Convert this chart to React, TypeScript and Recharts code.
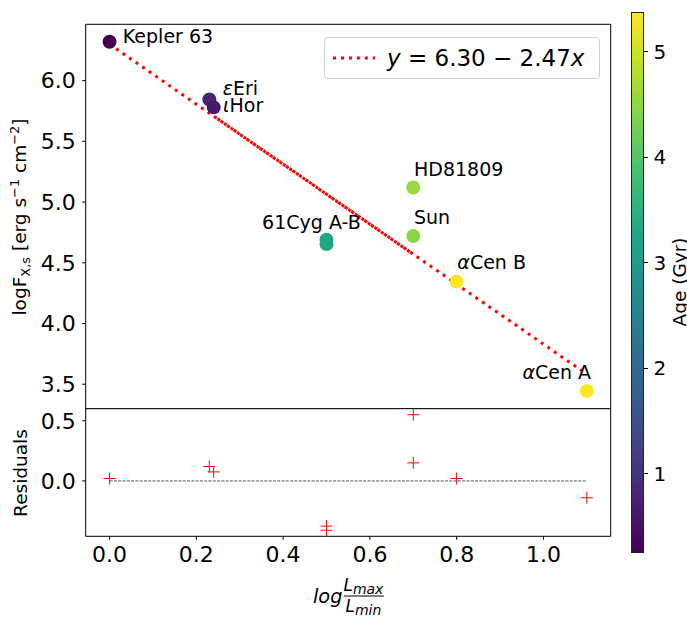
import React from 'react';
import { ComposedChart, Scatter, Line, XAxis, YAxis, ReferenceArea } from 'recharts';

// ---------- data ----------
const starLabels = ['Kepler 63', 'εEri', 'ιHor', '61Cyg A-B', '', 'HD81809', 'Sun', 'αCen B', 'αCen A'];
const logLRatio = [0.0, 0.23, 0.24, 0.5, 0.5, 0.7, 0.7, 0.8, 1.1];
const logFx = [6.32, 5.845, 5.78, 4.69, 4.655, 5.12, 4.72, 4.345, 3.445];
const agesGyr = [0.25, 0.8, 0.6, 3.3, 3.3, 4.6, 4.5, 5.38, 5.38];
const residuals = [0.02, 0.12, 0.075, -0.375, -0.41, 0.55, 0.15, 0.02, -0.14];
const fitIntercept = 6.3;
const fitSlope = -2.47;
// order in which the fit line was traced (it doubles back between 0.24 and 0.7)
const fitTraceX = [0.0, 0.7, 0.24, 1.1];
const xTicks = [0, 0.2, 0.4, 0.6, 0.8, 1.0];
const yTicks = [3.5, 4.0, 4.5, 5.0, 5.5, 6.0];
const residTicks = [0.0, 0.5];
const ageTicks = [1, 2, 3, 4, 5];
const ageMin = 0.25;
const ageMax = 5.38;

// ---------- styles ----------
const FONT = '"DejaVu Sans", sans-serif';
const xDomain: [number, number] = [-0.055, 1.155];
const yDomain: [number, number] = [3.296, 6.464];
const rDomain: [number, number] = [-0.46, 0.6];
// label offsets in pixels (text start, baseline) relative to each point
const labelOffsets: [number, number][] = [
  [13.3, 1], [13.4, -4.3], [9.4, 4.4], [-64.4, -11], [0, 0], [0.7, -11.6], [0.7, -12], [0.7, -12.7], [-64.4, -11.7],
];

const viridisStops = ['#440154', '#482475', '#414487', '#355f8d', '#2a788e', '#21918c', '#22a884', '#44bf70', '#7ad151', '#bddf26', '#fde725'];
function hexToRgb(h: string) {
  return [parseInt(h.slice(1, 3), 16), parseInt(h.slice(3, 5), 16), parseInt(h.slice(5, 7), 16)];
}
function viridis(t: number) {
  const tt = Math.max(0, Math.min(1, t)) * (viridisStops.length - 1);
  const i = Math.min(Math.floor(tt), viridisStops.length - 2);
  const f = tt - i;
  const a = hexToRgb(viridisStops[i]);
  const b = hexToRgb(viridisStops[i + 1]);
  const c = a.map((v, k) => Math.round(v + (b[k] - v) * f));
  return `rgb(${c[0]},${c[1]},${c[2]})`;
}

const mainPoints = logLRatio.map((x, i) => ({
  x,
  y: logFx[i],
  idx: i,
  label: starLabels[i],
  color: viridis((agesGyr[i] - ageMin) / (ageMax - ageMin)),
}));
const residPoints = logLRatio.map((x, i) => ({ x, y: residuals[i] }));
const xMin = Math.min(...logLRatio);
const xMax = Math.max(...logLRatio);
const fitLine = fitTraceX.map((x) => ({ x, y: fitIntercept + fitSlope * x }));
const zeroLine = [xMin, xMax].map((x) => ({ x, y: 0 }));

const dotShape = (p: any) => <circle cx={p.cx} cy={p.cy} r={7} fill={p.payload.color} />;
const labelShape = (p: any) => {
  const lab: string = p.payload.label;
  if (!lab) return <g />;
  const off = labelOffsets[p.payload.idx];
  const greek = /^[αει]/.test(lab);
  return (
    <text x={p.cx + off[0]} y={p.cy + off[1]} fontSize={19} fontFamily={FONT} fill="#000">
      {greek ? (
        <>
          <tspan fontStyle="italic">{lab[0]}</tspan>
          <tspan>{lab.slice(1)}</tspan>
        </>
      ) : (
        lab
      )}
    </text>
  );
};
const plusShape = (p: any) => (
  <path d={`M${p.cx - 6},${p.cy}H${p.cx + 6}M${p.cx},${p.cy - 6}V${p.cy + 6}`} stroke="#ff0000" strokeWidth={1} fill="none" />
);

const tickStyle = { fill: '#000', fontSize: 22, fontFamily: FONT };
const fmt1 = (v: number) => v.toFixed(1);

const cbTop = 11.7;
const cbHeight = 541.3;

export default function App() {
  const gradient = `linear-gradient(to top, ${viridisStops.map((c, i) => `${c} ${(i / (viridisStops.length - 1)) * 100}%`).join(', ')})`;
  return (
    <div style={{ position: 'absolute', left: 0, top: 0, width: 687, height: 617, background: '#fff', fontFamily: FONT, overflow: 'hidden', color: '#000' }}>
      {/* main panel */}
      <div style={{ position: 'absolute', left: 0, top: 0 }}>
        <ComposedChart width={687} height={409} margin={{ top: 24.3, right: 76.3, bottom: 0, left: 25.7 }}>
          <XAxis type="number" dataKey="x" domain={xDomain} allowDataOverflow hide />
          <YAxis
            type="number"
            dataKey="y"
            domain={yDomain}
            allowDataOverflow
            ticks={yTicks}
            interval={0}
            width={60}
            tickSize={3.5}
            tickMargin={6.5}
            axisLine={false}
            tickLine={{ stroke: '#000' }}
            tick={tickStyle}
            tickFormatter={fmt1}
          />
          <ReferenceArea x1={xDomain[0]} x2={xDomain[1]} y1={yDomain[0]} y2={yDomain[1]} fill="none" fillOpacity={0} stroke="#000" strokeWidth={1} ifOverflow="visible" />
          <Scatter data={mainPoints} dataKey="y" shape={dotShape} isAnimationActive={false} />
          <Line data={fitLine} dataKey="y" type="linear" stroke="#ff0000" strokeWidth={3} strokeDasharray="3 4.95" dot={false} activeDot={false} isAnimationActive={false} />
          <Scatter data={mainPoints} dataKey="y" shape={labelShape} isAnimationActive={false} />
        </ComposedChart>
      </div>

      {/* residual panel */}
      <div style={{ position: 'absolute', left: 0, top: 380 }}>
        <ComposedChart width={687} height={237} margin={{ top: 28.7, right: 76.3, bottom: 0, left: 25.7 }}>
          <XAxis
            type="number"
            dataKey="x"
            domain={xDomain}
            allowDataOverflow
            ticks={xTicks}
            interval={0}
            height={80.7}
            tickSize={3.5}
            tickMargin={7}
            axisLine={false}
            tickLine={{ stroke: '#000' }}
            tick={tickStyle}
            tickFormatter={fmt1}
          />
          <YAxis
            type="number"
            dataKey="y"
            domain={rDomain}
            allowDataOverflow
            ticks={residTicks}
            interval={0}
            width={60}
            tickSize={3.5}
            tickMargin={6.5}
            axisLine={false}
            tickLine={{ stroke: '#000' }}
            tick={tickStyle}
            tickFormatter={fmt1}
          />
          <ReferenceArea x1={xDomain[0]} x2={xDomain[1]} y1={rDomain[0]} y2={rDomain[1]} fill="none" fillOpacity={0} stroke="#000" strokeWidth={1} ifOverflow="visible" />
          <Line data={zeroLine} dataKey="y" type="linear" stroke="#555" strokeWidth={1} strokeDasharray="3 1.3" dot={false} activeDot={false} isAnimationActive={false} />
          <Scatter data={residPoints} dataKey="y" shape={plusShape} isAnimationActive={false} />
        </ComposedChart>
      </div>

      {/* legend */}
      <div
        style={{
          position: 'absolute',
          left: 324,
          top: 36.5,
          width: 276,
          height: 42,
          boxSizing: 'border-box',
          border: '1px solid #d0d0d0',
          borderRadius: 4,
          background: 'rgba(255,255,255,0.8)',
        }}
      >
        <svg style={{ position: 'absolute', left: 8, top: 17 }} width={42} height={6}>
          <line x1={0} y1={3} x2={42} y2={3} stroke="#ff0000" strokeWidth={3} strokeDasharray="3 4.95" />
        </svg>
        <div style={{ position: 'absolute', left: 62, top: 6, fontSize: 23, lineHeight: '28px', whiteSpace: 'nowrap' }}>
          <span style={{ fontStyle: 'italic' }}>y</span> = 6.30 − 2.47<span style={{ fontStyle: 'italic' }}>x</span>
        </div>
      </div>

      {/* y labels */}
      <div
        style={{
          position: 'absolute',
          left: 21.4,
          top: 216.5,
          transform: 'translate(-50%, -50%) rotate(-90deg)',
          fontSize: 18.5,
          lineHeight: '22px',
          whiteSpace: 'nowrap',
        }}
      >
        logF<span style={{ fontSize: '0.7em', position: 'relative', top: '0.3em' }}>X,s</span> [erg s
        <span style={{ fontSize: '0.7em', position: 'relative', top: '-0.55em' }}>−1</span> cm
        <span style={{ fontSize: '0.7em', position: 'relative', top: '-0.55em' }}>−2</span>]
      </div>
      <div
        style={{
          position: 'absolute',
          left: 21.4,
          top: 472.5,
          transform: 'translate(-50%, -50%) rotate(-90deg)',
          fontSize: 18.5,
          lineHeight: '22px',
          whiteSpace: 'nowrap',
        }}
      >
        Residuals
      </div>

      {/* x label */}
      <div
        style={{
          position: 'absolute',
          left: 348.2,
          top: 596,
          transform: 'translate(-50%, -50%)',
          display: 'flex',
          alignItems: 'center',
          fontStyle: 'italic',
          whiteSpace: 'nowrap',
        }}
      >
        <span style={{ fontSize: 19.3, lineHeight: '22px' }}>log</span>
        <span style={{ display: 'inline-flex', flexDirection: 'column', alignItems: 'center', marginLeft: 1 }}>
          <span style={{ fontSize: 17, lineHeight: '17px', paddingBottom: 1 }}>
            L<span style={{ fontSize: 14, position: 'relative', top: 3 }}>max</span>
          </span>
          <span style={{ borderTop: '1.2px solid #000', width: '100%', height: 0 }} />
          <span style={{ fontSize: 17, lineHeight: '17px', paddingTop: 1 }}>
            L<span style={{ fontSize: 14, position: 'relative', top: 3 }}>min</span>
          </span>
        </span>
      </div>

      {/* colorbar */}
      <div
        style={{
          position: 'absolute',
          left: 630.7,
          top: cbTop,
          width: 13.6,
          height: cbHeight,
          boxSizing: 'border-box',
          border: '1px solid #222',
          background: gradient,
        }}
      />
      {ageTicks.map((t) => {
        const y = cbTop + ((ageMax - t) / (ageMax - ageMin)) * cbHeight;
        return (
          <React.Fragment key={t}>
            <div style={{ position: 'absolute', left: 644.3, top: y - 0.5, width: 3.5, height: 1, background: '#000' }} />
            <div style={{ position: 'absolute', left: 653.5, top: y, transform: 'translateY(-50%)', fontSize: 20, lineHeight: '22px' }}>{t}</div>
          </React.Fragment>
        );
      })}
      <div
        style={{
          position: 'absolute',
          left: 679.5,
          top: 282,
          transform: 'translate(-50%, -50%) rotate(-90deg)',
          fontSize: 18.5,
          lineHeight: '22px',
          whiteSpace: 'nowrap',
        }}
      >
        Age (Gyr)
      </div>
    </div>
  );
}
